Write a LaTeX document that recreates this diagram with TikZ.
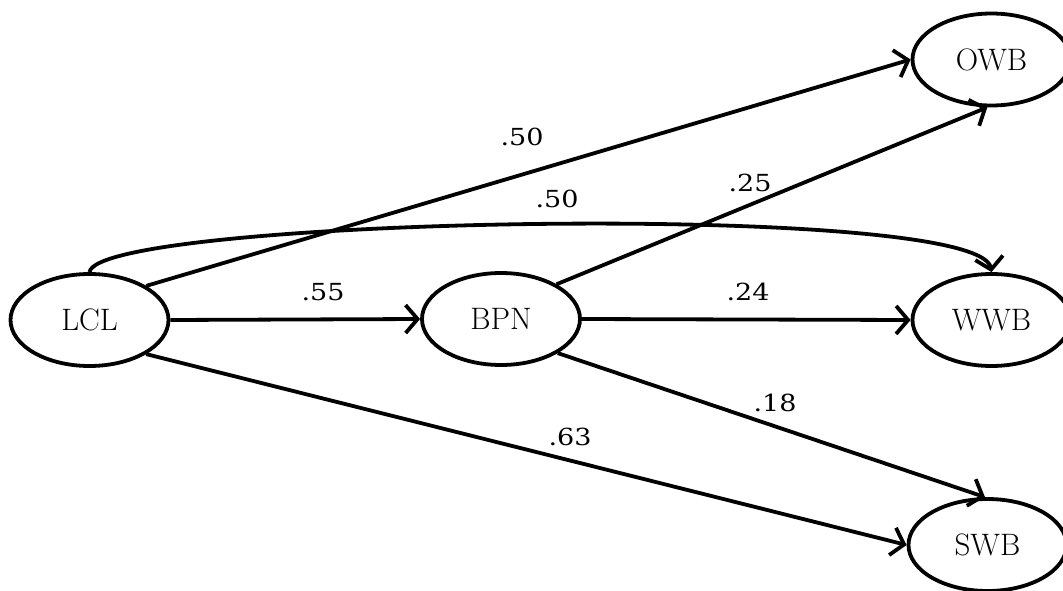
\documentclass[tikz,border=0pt]{standalone}
\usepackage{fontspec}
\usetikzlibrary{arrows.meta,calc,shapes.geometric}
\newfontfamily\labfont[FakeStretch=1.15]{DejaVu Serif}
\begin{document}
\begin{tikzpicture}[x=1pt,y=-1pt,
  var/.style={draw,ellipse,line width=3.8pt,minimum width=158pt,minimum height=92pt,inner sep=0pt,font=\fontsize{31}{37}\selectfont},
  conn/.style={line width=3.8pt,-{Straight Barb[length=12pt,width=28pt,line width=3.8pt]}},
  lab/.style={font=\labfont\fontsize{23.5}{28}\selectfont,inner sep=0pt}]
\useasboundingbox (0,0) rectangle (1063,591);
\node[var] (LCL) at (89.5,320) {LCL};
\node[var] (BPN) at (501,319) {BPN};
\node[var] (OWB) at (991.5,59.5) {OWB};
\node[var] (WWB) at (991.5,320) {WWB};
\node[var] (SWB) at (987.5,545) {SWB};
\draw[conn] (LCL.31) -- (OWB.west);
\draw[conn] (BPN.32) -- (OWB.265);
\draw[conn] (LCL.north) .. controls ($(LCL.north)+(8,-55)$) and ($(WWB.north)+(-12,-72)$) .. (WWB.north);
\draw[conn] (LCL.east) -- (BPN.west);
\draw[conn] (BPN.east) -- (WWB.west);
\draw[conn] (BPN.-31) -- (SWB.93);
\draw[conn] (LCL.-31) -- (SWB.west);
\node[lab] (l1) at (522,137) {.50};
\node[lab] (l2) at (557,199) {.50};
\node[lab] (l3) at (750,183) {.25};
\node[lab] (l4) at (323,292) {.55};
\node[lab] (l5) at (748,292) {.24};
\node[lab] (l6) at (775,403) {.18};
\node[lab] (l7) at (570,437) {.63};
\end{tikzpicture}
\end{document}
